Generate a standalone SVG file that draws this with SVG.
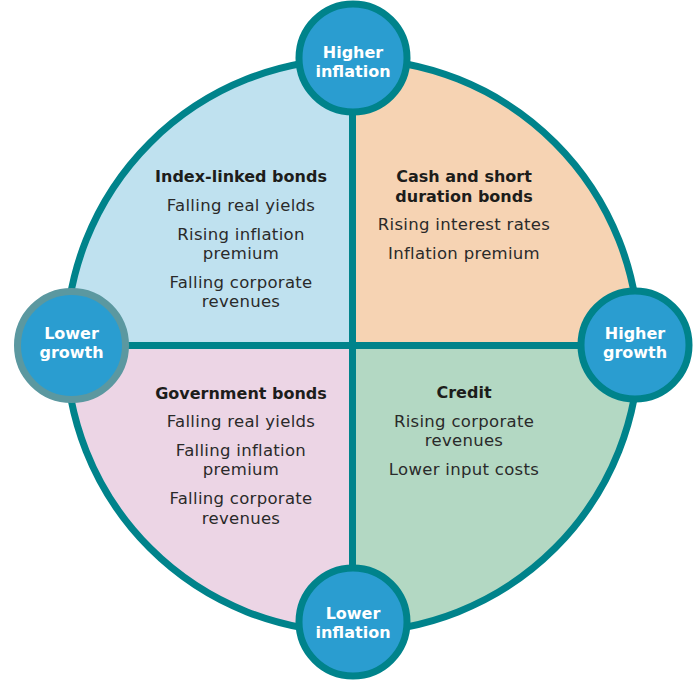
<svg xmlns="http://www.w3.org/2000/svg" width="697" height="682" viewBox="0 0 697 682">
<style>
.q{stroke:none}
.ring{fill:none;stroke:#00838b;stroke-width:7}
.cross{stroke:#00838b;stroke-width:7;fill:none}
.bub{fill:#2a9dd0;stroke:#00838b;stroke-width:7}
.bl{font-family:"DejaVu Sans","Liberation Sans",sans-serif;font-weight:bold;font-size:16px;fill:#ffffff;text-anchor:middle}
.t{font-family:"DejaVu Sans","Liberation Sans",sans-serif;font-weight:bold;font-size:16px;fill:#1d1d1b;text-anchor:middle}
.b{font-family:"DejaVu Sans","Liberation Sans",sans-serif;font-size:16.5px;letter-spacing:0.3px;fill:#2a2a2a;text-anchor:middle}
</style>
<rect width="697" height="682" fill="#ffffff"/>
<g id="q-tl">
<path class="q" fill="#bfe1ef" d="M352.5,345.5 L66,345.5 A286.5,286.5 0 0 1 352.5,59 Z"/>
<text class="t" x="241" y="182">Index-linked bonds</text>
<text class="b" x="241" y="211">Falling real yields</text>
<text class="b" x="241" y="240">Rising inflation</text>
<text class="b" x="241" y="259">premium</text>
<text class="b" x="241" y="288">Falling corporate</text>
<text class="b" x="241" y="307">revenues</text>
</g>
<g id="q-tr">
<path class="q" fill="#f6d3b3" d="M352.5,345.5 L352.5,59 A286.5,286.5 0 0 1 639,345.5 Z"/>
<text class="t" x="464" y="182">Cash and short</text>
<text class="t" x="464" y="202">duration bonds</text>
<text class="b" x="464" y="230">Rising interest rates</text>
<text class="b" x="464" y="259">Inflation premium</text>
</g>
<g id="q-br">
<path class="q" fill="#b3d8c3" d="M352.5,345.5 L639,345.5 A286.5,286.5 0 0 1 352.5,632 Z"/>
<text class="t" x="464" y="398">Credit</text>
<text class="b" x="464" y="427">Rising corporate</text>
<text class="b" x="464" y="446">revenues</text>
<text class="b" x="464" y="475">Lower  input costs</text>
</g>
<g id="q-bl">
<path class="q" fill="#ecd5e5" d="M352.5,345.5 L352.5,632 A286.5,286.5 0 0 1 66,345.5 Z"/>
<text class="t" x="241" y="399">Government bonds</text>
<text class="b" x="241" y="427">Falling real yields</text>
<text class="b" x="241" y="456">Falling inflation</text>
<text class="b" x="241" y="475">premium</text>
<text class="b" x="241" y="504">Falling corporate</text>
<text class="b" x="241" y="524">revenues</text>
</g>
<g id="connectors">
<circle class="ring" cx="352.5" cy="345.5" r="286.5"/>
<line class="cross" x1="352.5" y1="59" x2="352.5" y2="632"/>
<line class="cross" x1="66" y1="345.5" x2="639" y2="345.5"/>
</g>
<g id="higher-inflation">
<circle class="bub" cx="353" cy="58" r="54"/>
<text class="bl" x="353" y="58">Higher</text>
<text class="bl" x="353" y="77">inflation</text>
</g>
<g id="lower-growth">
<circle class="bub" cx="71.5" cy="345.5" r="54" style="stroke:#5b98a0"/>
<text class="bl" x="71.5" y="339">Lower</text>
<text class="bl" x="71.5" y="358">growth</text>
</g>
<g id="higher-growth">
<circle class="bub" cx="635" cy="345" r="54"/>
<text class="bl" x="635" y="339">Higher</text>
<text class="bl" x="635" y="358">growth</text>
</g>
<g id="lower-inflation">
<circle class="bub" cx="353" cy="622" r="54"/>
<text class="bl" x="353" y="619">Lower</text>
<text class="bl" x="353" y="638">inflation</text>
</g>
</svg>
